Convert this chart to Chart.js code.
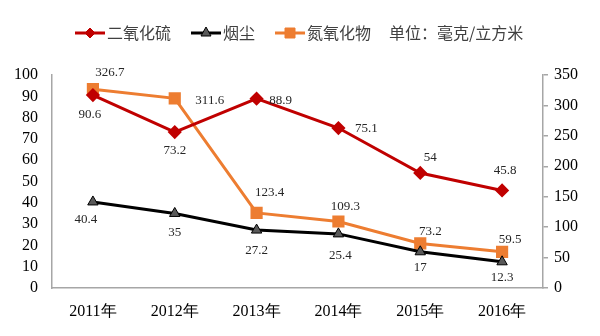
<!DOCTYPE html>
<html>
<head>
<meta charset="utf-8">
<script src="https://cdn.jsdelivr.net/npm/chart.js@4/dist/chart.umd.min.js"></script>
<style>
  html, body { margin: 0; padding: 0; background: #fff; }
  #wrap { width: 600px; height: 336px; }
</style>
</head>
<body>
<div id="wrap"><canvas id="c" width="600" height="336"></canvas></div>
<script>
// 数据
const years = ['2011年', '2012年', '2013年', '2014年', '2015年', '2016年'];
const so2 = [90.6, 73.2, 88.9, 75.1, 54, 45.8];       // 二氧化硫（左轴）
const dust = [40.4, 35, 27.2, 25.4, 17, 12.3];        // 烟尘（左轴）
const nox = [326.7, 311.6, 123.4, 109.3, 73.2, 59.5]; // 氮氧化物（右轴）
const unitText = '单位：毫克/立方米';

// 数值标签偏移（相对数据点）
const so2Offsets = [[-3, 20], [0, 18], [24, 2], [28, 1], [10, -15], [3, -20]];
const dustOffsets = [[-7, 18], [0, 19], [0, 21], [2, 22], [0, 16], [0, 16]];
const noxOffsets = [[17, -17], [35, 2], [13, -20], [7, -15], [10, -12], [8, -12]];

const serif = '"Liberation Serif", "Times New Roman", serif';

// 数值标签
const valueLabels = {
    id: 'valueLabels',
    afterDatasetsDraw(chart) {
        const ctx = chart.ctx;
        const offsets = [so2Offsets, dustOffsets, noxOffsets];
        ctx.save();
        ctx.font = '13px ' + serif;
        ctx.fillStyle = '#262626';
        ctx.textAlign = 'center';
        ctx.textBaseline = 'middle';
        chart.data.datasets.forEach((ds, i) => {
            const meta = chart.getDatasetMeta(i);
            meta.data.forEach((pt, j) => {
                const o = offsets[i][j];
                ctx.fillText(String(ds.data[j]), pt.x + o[0], pt.y + o[1]);
            });
        });
        ctx.restore();
    }
};

// 图例
const topLegend = {
    id: 'topLegend',
    afterDraw(chart) {
        const ctx = chart.ctx;
        const y = 33;
        ctx.save();
        ctx.font = '16px "Noto Sans CJK SC", sans-serif';
        ctx.textBaseline = 'middle';
        let x = 75;
        chart.data.datasets.forEach(ds => {
            ctx.strokeStyle = ds.borderColor;
            ctx.lineWidth = 3;
            ctx.beginPath();
            ctx.moveTo(x, y);
            ctx.lineTo(x + 30, y);
            ctx.stroke();
            const cx = x + 15;
            ctx.fillStyle = ds.pointBackgroundColor;
            ctx.strokeStyle = ds.pointBorderColor;
            ctx.lineWidth = 1;
            ctx.beginPath();
            if (ds.pointStyle === 'rectRot') {
                ctx.moveTo(cx, y - 5); ctx.lineTo(cx + 5, y); ctx.lineTo(cx, y + 5); ctx.lineTo(cx - 5, y);
            } else if (ds.pointStyle === 'triangle') {
                ctx.moveTo(cx, y - 6); ctx.lineTo(cx + 5, y + 3); ctx.lineTo(cx - 5, y + 3);
            } else {
                ctx.rect(cx - 5, y - 5, 10, 10);
            }
            ctx.closePath();
            ctx.fill();
            ctx.stroke();
            ctx.fillStyle = '#404040';
            ctx.fillText(ds.label, x + 32, y);
            x += 32 + ctx.measureText(ds.label).width + 20;
        });
        ctx.fillStyle = '#404040';
        ctx.fillText(unitText, x - 2, y);
        ctx.restore();
    }
};

new Chart(document.getElementById('c').getContext('2d'), {
    type: 'line',
    data: {
        labels: years,
        datasets: [{
            label: '二氧化硫',
            data: so2,
            yAxisID: 'y',
            borderColor: '#C00000',
            borderWidth: 3,
            pointStyle: 'rectRot',
            pointRadius: 5,
            pointBackgroundColor: '#C00000',
            pointBorderColor: '#C00000',
            tension: 0
        }, {
            label: '烟尘',
            data: dust,
            yAxisID: 'y',
            borderColor: '#000000',
            borderWidth: 3,
            pointStyle: 'triangle',
            pointRadius: 6,
            pointBackgroundColor: '#595959',
            pointBorderColor: '#000000',
            pointBorderWidth: 1,
            tension: 0
        }, {
            label: '氮氧化物',
            data: nox,
            yAxisID: 'y1',
            borderColor: '#ED7D31',
            borderWidth: 3,
            pointStyle: 'rect',
            pointRadius: 6.5,
            pointBackgroundColor: '#ED7D31',
            pointBorderColor: '#ED7D31',
            tension: 0
        }]
    },
    options: {
        responsive: false,
        animation: false,
        layout: { padding: { top: 75, left: 0, right: 0, bottom: 0 } },
        plugins: {
            legend: { display: false },
            tooltip: { enabled: false }
        },
        scales: {
            x: {
                offset: true,
                grid: { display: false, drawTicks: false },
                border: { color: '#A6A6A6', width: 1.5 },
                ticks: { color: '#000', font: { size: 16, family: serif }, padding: 14 },
                afterFit(scale) { scale.height = 48; }
            },
            y: {
                position: 'left',
                min: 0, max: 100,
                ticks: { stepSize: 10, autoSkip: false, color: '#000', font: { size: 16, family: serif }, padding: 14 },
                grid: { display: false, drawTicks: false },
                border: { color: '#A6A6A6', width: 1.5 },
                afterFit(scale) { scale.width = 52; }
            },
            y1: {
                position: 'right',
                min: 0, max: 350,
                ticks: { stepSize: 50, autoSkip: false, color: '#000', font: { size: 16, family: serif }, padding: 6 },
                grid: { display: true, drawOnChartArea: false, drawTicks: true, tickLength: 5, color: '#A6A6A6', lineWidth: 1.5 },
                border: { color: '#A6A6A6', width: 1.5 },
                afterFit(scale) { scale.width = 57; }
            }
        }
    },
    plugins: [valueLabels, topLegend]
});
</script>
</body>
</html>
